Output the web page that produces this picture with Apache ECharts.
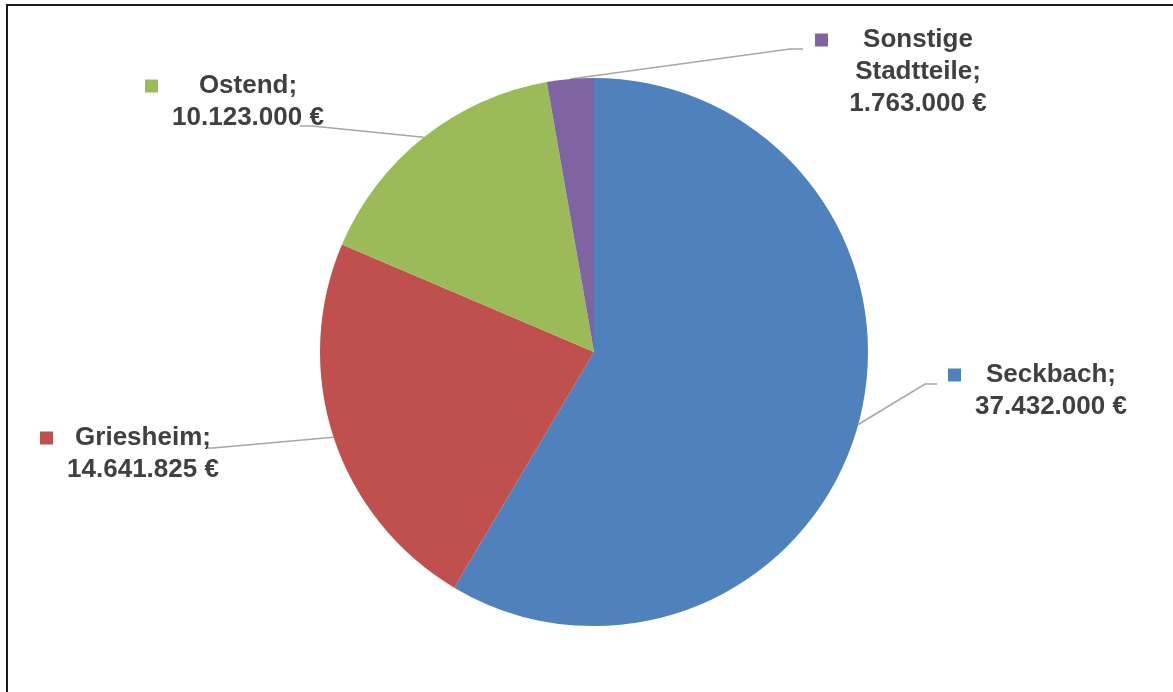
<!DOCTYPE html>
<html>
<head>
<meta charset="utf-8">
<script src="https://cdn.jsdelivr.net/npm/echarts@6/dist/echarts.min.js"></script>
<style>
  html, body { margin: 0; padding: 0; background: #fff; }
  #chart { width: 1173px; height: 692px; }
</style>
</head>
<body>
<div id="chart"></div>
<script>
// Investitionen nach Stadtteil
const districts = ['Seckbach', 'Griesheim', 'Ostend', 'Sonstige Stadtteile'];
const amounts = [37432000, 14641825, 10123000, 1763000];
const labelLines = [
  ['Seckbach;', '37.432.000 €'],
  ['Griesheim;', '14.641.825 €'],
  ['Ostend;', '10.123.000 €'],
  ['Sonstige', 'Stadtteile;', '1.763.000 €']
];

const colors = ['#4F81BD', '#C0504D', '#9BBB59', '#8064A2'];

// label box placement (left edge of key square, top of first text line)
// and the end of each leader line
const labelPlacement = [
  { x: 948, y: 359, end: [[925, 384], [937, 384]] },
  { x: 40, y: 422, end: [[213, 448], [208, 448]] },
  { x: 145, y: 70, end: [[312, 126], [300, 126]] },
  { x: 815, y: 24, end: [[790, 49], [803, 49]] }
];

const chart = echarts.init(document.getElementById('chart'));

const rich = {
  t: {
    width: 180, align: 'center', fontSize: 26, fontWeight: 'bold',
    fontFamily: '"Liberation Sans", Arial, sans-serif', color: '#404040', lineHeight: 32
  },
  sp: { width: 13, height: 13, lineHeight: 32 }
};
colors.forEach((c, i) => {
  rich['sq' + i] = { width: 13, height: 13, backgroundColor: c, lineHeight: 32 };
});

chart.setOption({
  animation: false,
  backgroundColor: '#fff',
  color: colors,
  graphic: [
    { type: 'line', shape: { x1: 7, y1: 5, x2: 7, y2: 692 }, style: { stroke: '#1a1a1a', lineWidth: 2 } },
    { type: 'line', shape: { x1: 6, y1: 5, x2: 1173, y2: 5 }, style: { stroke: '#1a1a1a', lineWidth: 2 } }
  ],
  series: [{
    type: 'pie',
    center: [594, 352],
    radius: 274,
    startAngle: 90,
    clockwise: true,
    avoidLabelOverlap: false,
    itemStyle: { borderWidth: 0 },
    emphasis: { disabled: true },
    data: districts.map((n, i) => ({ name: n, value: amounts[i] })),
    label: {
      show: true,
      position: 'outside',
      formatter: p => labelLines[p.dataIndex]
        .map((line, k) => (k === 0 ? '{sq' + p.dataIndex + '|}' : '{sp|}') + '{t|' + line + '}')
        .join('\n'),
      rich: rich
    },
    labelLine: {
      show: true,
      lineStyle: { color: '#a6a6a6', width: 1.5 }
    },
    labelLayout: p => {
      const pl = labelPlacement[p.dataIndex];
      const start = p.labelLinePoints ? p.labelLinePoints[0] : null;
      const out = { x: pl.x, y: pl.y, align: 'left', verticalAlign: 'top' };
      if (start) out.labelLinePoints = [start, pl.end[0], pl.end[1]];
      return out;
    }
  }]
});
</script>
</body>
</html>
